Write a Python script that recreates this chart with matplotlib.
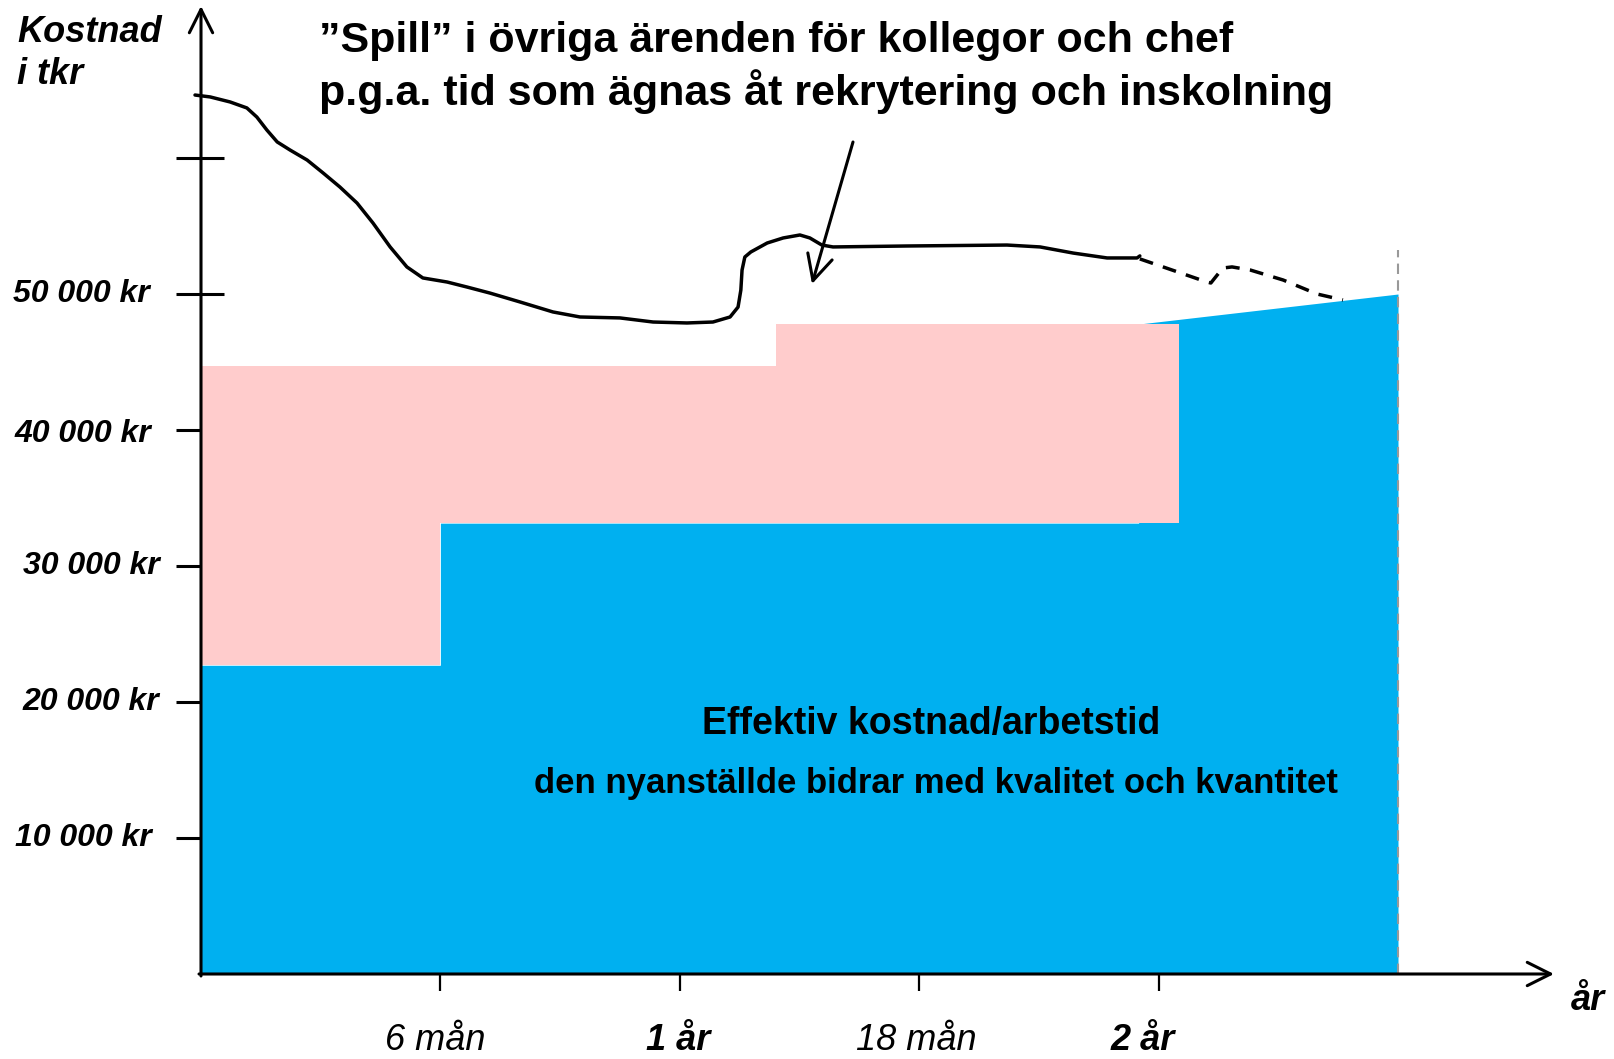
import matplotlib
matplotlib.use("Agg")
import matplotlib.pyplot as plt

# ---------------- data ----------------
# effective cost (blue) outline: months / kr
blue_months = [0, 6, 6, 23.5, 23.5, 30]
blue_kr = [22700, 22700, 33150, 33150, 47790, 50000]

# onboarding cost band (pink)
pink_months = [0, 6, 6, 14.4, 14.4, 24.5]
pink_top_kr = [44740, 44740, 44740, 44740, 47790, 47790]
pink_bottom_kr = [22700, 22700, 33150, 33150, 33150, 33150]

# "Spill" curve (solid part)
spill_months = [-0.15, 0.23, 0.73, 1.15, 1.40, 1.65, 1.91, 2.23, 2.66, 3.06,
                3.48, 3.91, 4.31, 4.74, 5.16, 5.56, 6.17, 6.67, 7.24, 8.00,
                8.82, 9.50, 10.50, 11.33, 12.18, 12.83, 13.26, 13.46, 13.53,
                13.56, 13.63, 13.78, 14.19, 14.59, 15.01, 15.26, 15.56, 15.84,
                17.69, 20.20, 21.03, 21.86, 22.71, 23.46, 23.53]
spill_kr = [64630, 64490, 64120, 63680, 63010, 62060, 61180, 60590, 59850, 58900,
            57870, 56690, 55220, 53460, 51990, 51180, 50880, 50510, 50070, 49410,
            48680, 48310, 48240, 47940, 47870, 47940, 48310, 49040, 50290,
            51760, 52720, 53090, 53750, 54120, 54340, 54120, 53600, 53460,
            53530, 53600, 53460, 53010, 52650, 52650, 52800]

# "Spill" curve (dashed continuation)
dash_months = [23.53, 25.21, 25.31, 25.41, 25.61, 25.84, 26.29, 27.12, 27.97, 28.62]
dash_kr = [52580, 50880, 50810, 51180, 51910, 51990, 51770, 51030, 50000, 49560]

y_ticks = [10000, 20000, 30000, 40000, 50000, 60000]
y_tick_labels = ["10 000 kr", "20 000 kr", "30 000 kr", "40 000 kr", "50 000 kr", ""]
x_ticks = [6, 12, 18, 24]
x_tick_labels = ["6 mån", "1 år", "18 mån", "2 år"]
x_tick_bold = [False, True, False, True]
end_month = 30

title_lines = ["\u201dSpill\u201d i övriga ärenden för kollegor och chef",
               "p.g.a. tid som ägnas åt rekrytering och inskolning"]
y_label_lines = ["Kostnad", "i tkr"]
x_label = "år"
inner_line1 = "Effektiv kostnad/arbetstid"
inner_line2 = "den nyanställde bidrar med kvalitet och kvantitet"

# ---------------- layout ----------------
W, H = 1615, 1059
X0_PX, Y0_PX = 201, 974
PX_PER_MONTH = 39.9
PX_PER_KR = 136 / 10000


def mx(px):
    return (px - X0_PX) / PX_PER_MONTH


def ky(py):
    return (Y0_PX - py) / PX_PER_KR


BLUE = "#00B0F0"
PINK = "#FFCCCC"
FONT = ["Liberation Sans", "DejaVu Sans"]

fig = plt.figure(figsize=(W / 100, H / 100), dpi=100)
ax = fig.add_axes([0, 0, 1, 1])
ax.set_xlim(mx(0), mx(W))
ax.set_ylim(ky(H), ky(0))
ax.axis("off")

# y tick marks (crossing the axis, partly hidden by fills)
ax.hlines(y_ticks, mx(176), mx(224), color="black", lw=2.2, zorder=1)
# x tick marks
ax.vlines(x_ticks, ky(991), 0, color="black", lw=1.6, zorder=1)

# fills
ax.fill_between(blue_months, 0, blue_kr, color=BLUE, lw=0, zorder=2)
ax.fill_between(pink_months, pink_bottom_kr, pink_top_kr, color=PINK, lw=0, zorder=2.1)

# end marker
ax.vlines([end_month], 0, ky(250), color="#999999", lw=1.5,
          linestyles=(0, (5, 3)), zorder=2.2)

# axes with arrows
ax.annotate("", xy=(0, ky(6)), xytext=(0, ky(976)),
            arrowprops=dict(arrowstyle="->,head_length=0.6,head_width=0.3",
                            lw=2.2, color="black", mutation_scale=28,
                            shrinkA=0, shrinkB=0), zorder=3)
ax.annotate("", xy=(mx(1554), 0), xytext=(mx(199), 0),
            arrowprops=dict(arrowstyle="->,head_length=0.6,head_width=0.3",
                            lw=2.2, color="black", mutation_scale=28,
                            shrinkA=0, shrinkB=0), zorder=3)

# spill curve
ax.plot(spill_months, spill_kr, color="black", lw=2.5, zorder=4,
        solid_capstyle="round", solid_joinstyle="round")
ax.plot(dash_months, dash_kr, color="black", lw=2.5, zorder=4,
        linestyle=(0, (4, 3)))

# pointer arrow
ax.annotate("", xy=(mx(812), ky(284)), xytext=(mx(853), ky(142)),
            arrowprops=dict(arrowstyle="->,head_length=0.7,head_width=0.35",
                            lw=2.2, color="black", mutation_scale=26,
                            shrinkA=0, shrinkB=0), zorder=5)

# y tick labels
label_cx = {10000: 83, 20000: 91, 30000: 91, 40000: 83, 50000: 81}
label_cy = {10000: 838, 20000: 702, 30000: 566, 40000: 434, 50000: 294}
for v, lab in zip(y_ticks, y_tick_labels):
    if lab:
        ax.text(mx(label_cx[v]), ky(label_cy[v]), lab, ha="center", va="center",
                fontsize=23, fontweight="bold", fontstyle="italic",
                family=FONT, zorder=6)

# x tick labels
x_label_cx = [435, 678, 916, 1143]
for cx, lab, b in zip(x_label_cx, x_tick_labels, x_tick_bold):
    ax.text(mx(cx), ky(1040), lab, ha="center", va="center", fontsize=26,
            fontweight="bold" if b else "normal", fontstyle="italic",
            family=FONT, zorder=6)

ax.text(mx(1588), ky(1000), x_label, ha="center", va="center", fontsize=26,
        fontweight="bold", fontstyle="italic", family=FONT, zorder=6)

for line, cy in zip(y_label_lines, [33, 74]):
    ax.text(mx(17), ky(cy), line, ha="left", va="center", fontsize=26,
            fontweight="bold", fontstyle="italic", family=FONT, zorder=6)

# title
for line, cy in zip(title_lines, [41, 92]):
    ax.text(mx(319), ky(cy), line, ha="left", va="center", fontsize=31,
            fontweight="bold", family=FONT, zorder=6)

# inner text
ax.text(mx(931), ky(724), inner_line1, ha="center", va="center", fontsize=27,
        fontweight="bold", family=FONT, zorder=6)
ax.text(mx(936), ky(784), inner_line2, ha="center", va="center", fontsize=25,
        fontweight="bold", family=FONT, zorder=6)

fig.savefig("out.png", dpi=100)
